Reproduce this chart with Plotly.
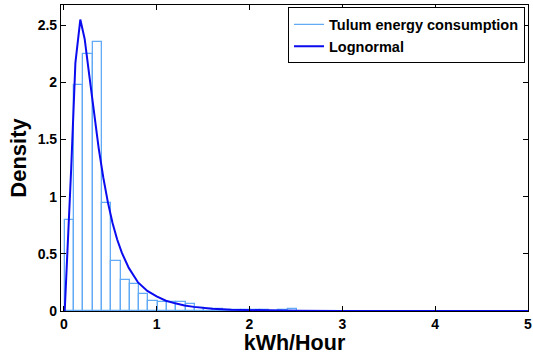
import plotly.graph_objects as go

# Histogram (density), bin width 0.1
bin_left_edges = [0.012 + 0.1 * i for i in range(25)]
bin_density = [0.80, 1.98, 2.25, 2.35, 0.945, 0.435, 0.27, 0.235, 0.148, 0.088,
               0.075, 0.075, 0.078, 0.065, 0.03, 0.02, 0.015, 0.012, 0.01, 0.008,
               0.008, 0.005, 0.004, 0.01, 0.02]
bin_width = 0.1

# Lognormal fit curve
curve_x = [0, 0.01, 0.08, 0.125, 0.178, 0.225, 0.275, 0.325, 0.375, 0.425, 0.475,
           0.525, 0.575, 0.625, 0.7, 0.8, 0.9, 1.0, 1.1, 1.2, 1.3, 1.4, 1.5, 1.6,
           1.8, 2.0, 2.5, 3.0, 3.5, 4.0, 5.0]
curve_y = [0, 0, 1.25, 2.17, 2.55, 2.38, 2.06, 1.74, 1.43, 1.17, 0.95,
           0.77, 0.625, 0.51, 0.377, 0.25, 0.176, 0.128, 0.09, 0.067, 0.048, 0.036, 0.027, 0.019,
           0.011, 0.007, 0.002, 0.001, 0.0004, 0.0002, 0.0]

x_ticks = [0, 1, 2, 3, 4, 5]
y_ticks = [0, 0.5, 1, 1.5, 2, 2.5]
y_tick_labels = ["0", "0.5", "1", "1.5", "2", "2.5"]

hist_color = "#62aaf5"
curve_color = "#0b0bef"
font_family = "Liberation Sans, Arial, sans-serif"

fig = go.Figure()
fig.add_trace(go.Bar(
    x=[e + bin_width / 2 for e in bin_left_edges],
    y=bin_density,
    width=bin_width,
    marker=dict(color="rgba(255,255,255,0)", line=dict(color=hist_color, width=1.3)),
    showlegend=False,
    hoverinfo="skip",
))
fig.add_trace(go.Scatter(
    x=[None], y=[None], mode="lines",
    line=dict(color=hist_color, width=1.3),
    name="Tulum energy consumption",
))
fig.add_trace(go.Scatter(
    x=curve_x, y=curve_y, mode="lines",
    line=dict(color=curve_color, width=2),
    name="Lognormal",
))

axis_common = dict(
    showline=True, linecolor="black", linewidth=1.2, mirror="ticks",
    ticks="inside", ticklen=5, tickwidth=1, tickcolor="black",
    showgrid=False, zeroline=False, automargin=False,
    tickfont=dict(family=font_family, size=14, color="black", weight="bold"),
)

fig.update_layout(
    width=533, height=355,
    margin=dict(l=61, r=5, t=5, b=44, autoexpand=False),
    plot_bgcolor="white", paper_bgcolor="white",
    bargap=0,
    xaxis=dict(range=[-0.03, 5.0], tickvals=x_ticks,
               title=dict(text="kWh/Hour", standoff=4,
                          font=dict(family=font_family, size=21.5, color="black", weight="bold")),
               **axis_common),
    yaxis=dict(range=[0, 2.677], tickvals=y_ticks, ticktext=y_tick_labels,
               title=dict(text="Density", standoff=4,
                          font=dict(family=font_family, size=22, color="black", weight="bold")),
               **axis_common),
    legend=dict(
        x=0.9936, y=0.992, xanchor="right", yanchor="top",
        bgcolor="white", bordercolor="black", borderwidth=1,
        font=dict(family=font_family, size=14.5, color="black", weight="bold"),
        tracegroupgap=0, itemwidth=30,
    ),
)

fig.write_html("out.html",
               config={"displayModeBar": False},
               post_script="document.body.style.margin='0';document.body.style.overflow='hidden';")
